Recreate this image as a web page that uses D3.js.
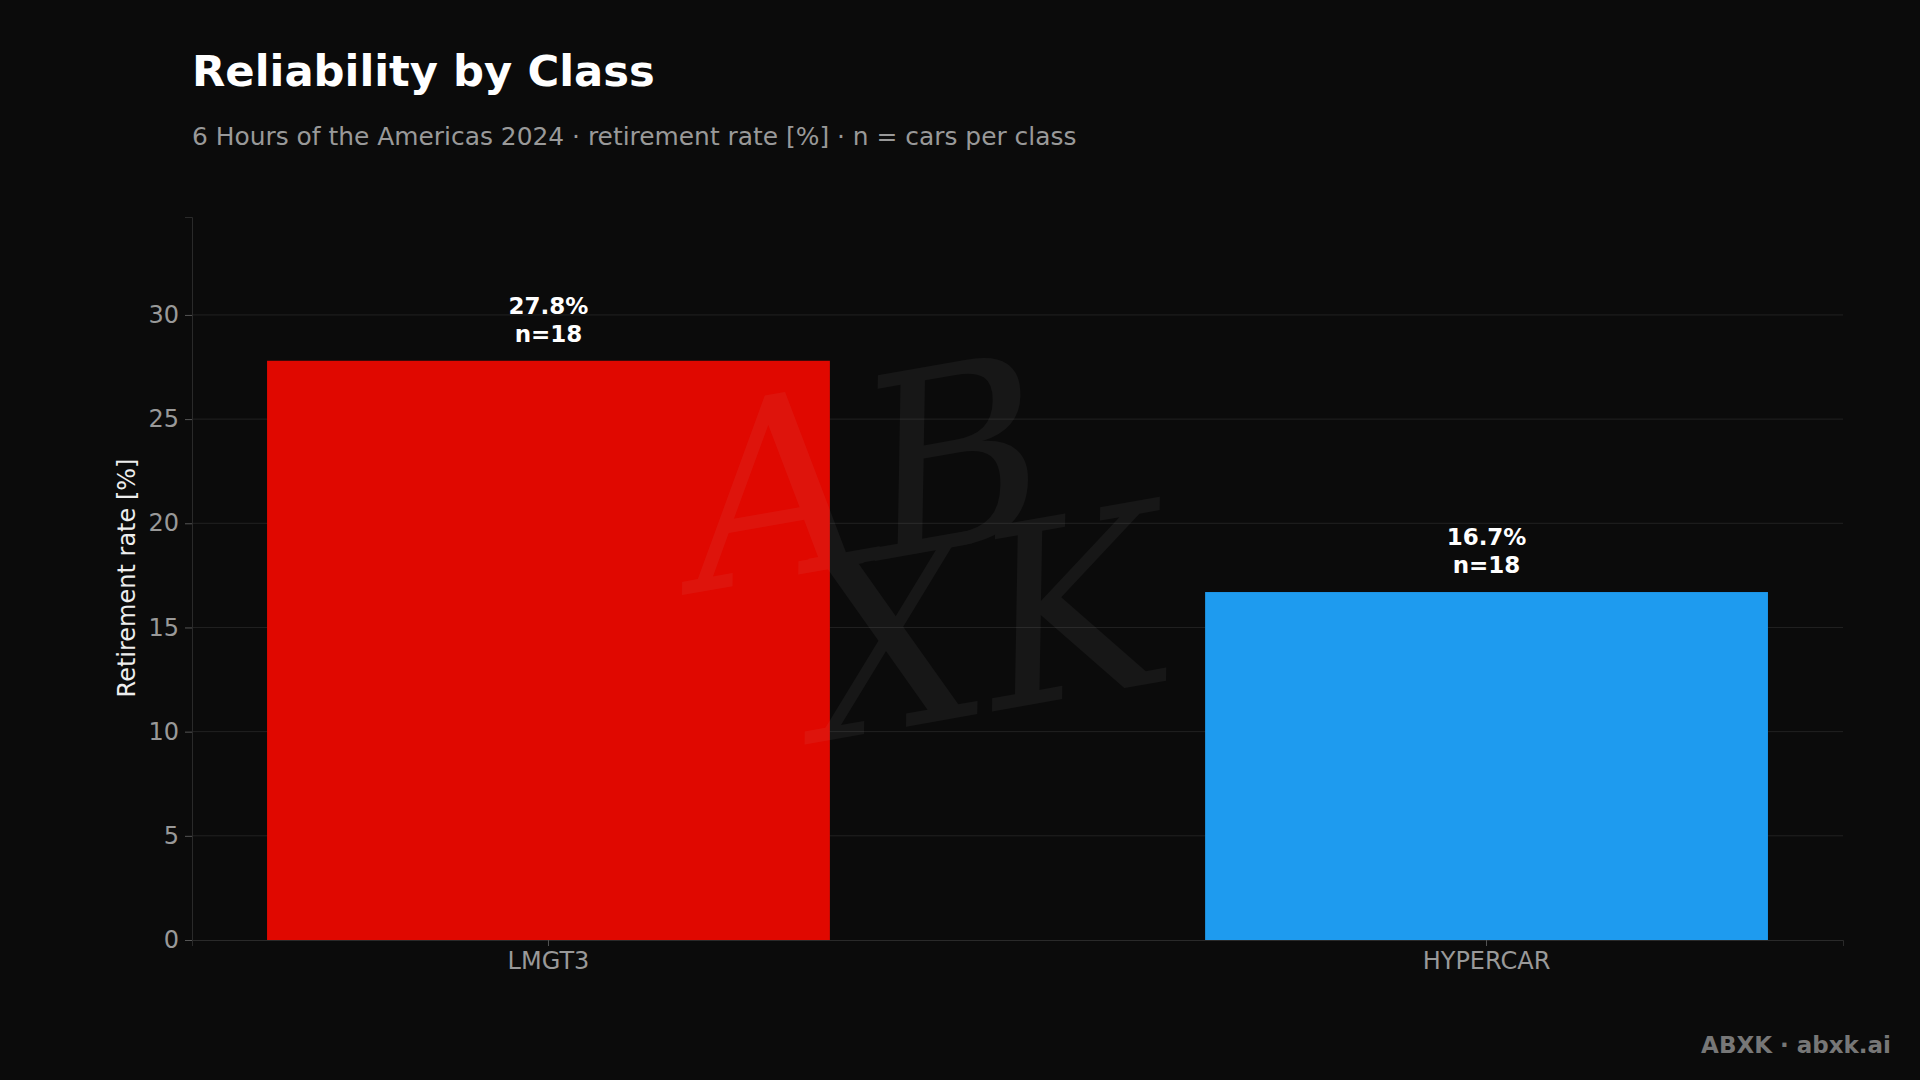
<!DOCTYPE html>
<html><head><meta charset="utf-8">
<script src="https://cdn.jsdelivr.net/npm/d3@7"></script>
<style>body{margin:0;background:#0b0b0b;}svg{display:block;font-family:"DejaVu Sans",sans-serif;}</style>
</head><body>
<svg id="c" width="1920" height="1080"></svg>
<script>
const categories = ["LMGT3", "HYPERCAR"];
const rates = [27.8, 16.7];
const counts = [18, 18];
const colors = ["#e00800", "#1e9bef"];
const yTicks = [0, 5, 10, 15, 20, 25, 30];

const svg = d3.select("#c");
svg.append("rect").attr("width",1920).attr("height",1080).attr("fill","#0b0b0b");
const L=192,R=1843,T=217,B=940;
const x = d3.scaleBand().domain(categories).range([L,R]).paddingInner(0.4).paddingOuter(0.08);
const y = d3.scaleLinear().domain([0,34.7]).range([B,T]);

svg.append("g").selectAll("line").data(yTicks.slice(1)).join("line")
  .attr("x1",L).attr("x2",R).attr("y1",d=>y(d)).attr("y2",d=>y(d))
  .attr("stroke","#222").attr("stroke-width",1);

const ya = svg.append("g").attr("transform",`translate(${L},0)`).call(d3.axisLeft(y).tickValues(yTicks).tickSize(7).tickPadding(6));
ya.select(".domain").attr("stroke","#2a2a2a");
ya.selectAll(".tick line").attr("stroke","#555");
ya.selectAll("text").attr("fill","#999").attr("font-size",24).style("font-family","DejaVu Sans");
const xa = svg.append("g").attr("transform",`translate(0,${B})`).call(d3.axisBottom(x).tickSize(6).tickPadding(6));
xa.select(".domain").attr("stroke","#2a2a2a");
xa.selectAll(".tick line").attr("stroke","#555");
xa.selectAll("text").attr("fill","#999").attr("font-size",24).style("font-family","DejaVu Sans");

svg.append("g").selectAll("rect").data(categories).join("rect")
  .attr("x",d=>x(d)).attr("width",x.bandwidth())
  .attr("y",(d,i)=>y(rates[i])).attr("height",(d,i)=>B-y(rates[i]))
  .attr("fill",(d,i)=>colors[i]);

const wm = svg.append("g").attr("opacity",0.06).attr("fill","#ccc")
  .style("font-family","DejaVu Serif").style("font-style","italic");
wm.append("text").attr("x",880).attr("y",560).attr("font-size",250).attr("text-anchor","middle").attr("transform","rotate(-10,880,560)").text("AB");
wm.append("text").attr("x",1000).attr("y",710).attr("font-size",250).attr("text-anchor","middle").attr("transform","rotate(-10,1000,710)").text("XK");

const lab = svg.append("g").selectAll("text").data(categories).join("text")
  .attr("x",d=>x(d)+x.bandwidth()/2).attr("y",(d,i)=>y(rates[i])-47)
  .attr("text-anchor","middle").attr("fill","#fff").attr("font-size",23).attr("font-weight","bold");
lab.append("tspan").attr("x",d=>x(d)+x.bandwidth()/2).text((d,i)=>rates[i].toFixed(1)+"%");
lab.append("tspan").attr("x",d=>x(d)+x.bandwidth()/2).attr("dy",28).text((d,i)=>"n="+counts[i]);

svg.append("text").attr("transform",`translate(135,578) rotate(-90)`).attr("text-anchor","middle")
  .attr("fill","#eee").attr("font-size",24).text("Retirement rate [%]");
svg.append("text").attr("x",192).attr("y",86).attr("fill","#fff").attr("font-size",43.3).attr("font-weight","bold").text("Reliability by Class");
svg.append("text").attr("x",192).attr("y",145).attr("fill","#999").attr("font-size",24.9).text("6 Hours of the Americas 2024 · retirement rate [%] · n = cars per class");
svg.append("text").attr("x",1891).attr("y",1053).attr("text-anchor","end").attr("fill","#777").attr("font-size",23).attr("font-weight","bold").text("ABXK · abxk.ai");
</script>
</body></html>
